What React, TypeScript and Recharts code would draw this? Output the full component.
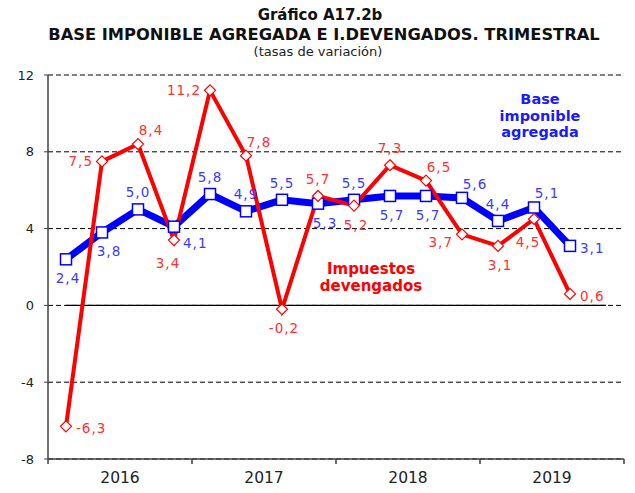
import React from 'react';
import { LineChart, Line, XAxis, YAxis, CartesianGrid, ReferenceLine, LabelList } from 'recharts';

const quarters = ['I-16', 'II-16', 'III-16', 'IV-16', 'I-17', 'II-17', 'III-17', 'IV-17', 'I-18', 'II-18', 'III-18', 'IV-18', 'I-19', 'II-19', 'III-19', 'IV-19'];
const years = ['2016', '2017', '2018', '2019'];
const baseImponible = [2.4, 3.8, 5.0, 4.1, 5.8, 4.9, 5.5, 5.3, 5.5, 5.7, 5.7, 5.6, 4.4, 5.1, 3.1, null];
const impuestos = [-6.3, 7.5, 8.4, 3.4, 11.2, 7.8, -0.2, 5.7, 5.2, 7.3, 6.5, 3.7, 3.1, 4.5, 0.6, null];
const yTicks = [-8, -4, 0, 4, 8, 12];
const xTicks = [-0.5, 1.5, 3.5, 5.5, 7.5, 9.5, 11.5, 13.5, 15.5];

// where each value label sits relative to its point
const baseLabelPos = ['b', 'br', 'a', 'rb', 'a', 'a', 'a', 'br', 'a', 'b', 'b', 'ar', 'a', 'ar', 'r'];
const impLabelPos = ['r', 'l', 'ar', 'bl', 'l', 'ar', 'b', 'a', 'b', 'a', 'ar', 'lb', 'b', 'bl', 'r'];

const data = quarters.map((q, i) => ({ idx: i, q, base: baseImponible[i], imp: impuestos[i] }));

const FONT = "'DejaVu Sans', Verdana, sans-serif";
const BLUE = '#0000ff';
const RED = '#ff0000';

const placements: Record<string, { dx: number; dy: number; anchor: 'start' | 'middle' | 'end' }> = {
  a: { dx: 0, dy: -17, anchor: 'middle' },
  b: { dx: 2, dy: 19, anchor: 'middle' },
  ar: { dx: 13, dy: -14, anchor: 'middle' },
  br: { dx: 7, dy: 19, anchor: 'middle' },
  bl: { dx: -6, dy: 23, anchor: 'middle' },
  r: { dx: 10, dy: 2, anchor: 'start' },
  rb: { dx: 9, dy: 16, anchor: 'start' },
  l: { dx: -9, dy: 0, anchor: 'end' },
  lb: { dx: -9, dy: 8, anchor: 'end' },
};

const makeLabel = (pos: string[], color: string) => (props: any) => {
  const { x, y, value, index } = props;
  if (value == null || x == null || y == null) return null;
  const p = placements[pos[index]] || placements.a;
  return (
    <text
      x={x + p.dx}
      y={y + p.dy}
      textAnchor={p.anchor}
      dominantBaseline="central"
      fill={color}
      fontSize={13.5}
      letterSpacing={1}
      fontFamily={FONT}
    >
      {String(value.toFixed(1)).replace('.', ',')}
    </text>
  );
};

const SquareDot = (props: any) => {
  const { cx, cy, index } = props;
  if (cx == null || cy == null || props.value == null) return <g key={`s${index}`} />;
  return <rect key={`s${index}`} x={cx - 5.5} y={cy - 5.5} width={11} height={11} fill="#fff" stroke={BLUE} strokeWidth={1.5} />;
};

const DiamondDot = (props: any) => {
  const { cx, cy, index } = props;
  if (cx == null || cy == null || props.value == null) return <g key={`d${index}`} />;
  const r = 5.5;
  return (
    <path
      key={`d${index}`}
      d={`M${cx},${cy - r}L${cx + r},${cy}L${cx},${cy + r}L${cx - r},${cy}Z`}
      fill="#fff"
      stroke={RED}
      strokeWidth={1.2}
    />
  );
};

const YearTick = (props: any) => {
  const { x, y, payload } = props;
  const v = payload.value;
  if ((v + 0.5) % 4 === 0) {
    return <line x1={x} x2={x} y1={y} y2={y + 5} stroke="#404040" strokeWidth={1.5} />;
  }
  return (
    <text x={x} y={y + 24} textAnchor="middle" fill="#222" fontSize={15.5} fontFamily={FONT}>
      {years[Math.floor(v / 4)]}
    </text>
  );
};

const center: React.CSSProperties = { position: 'absolute', textAlign: 'center', fontFamily: FONT, whiteSpace: 'nowrap' };

export default function App() {
  return (
    <div style={{ position: 'absolute', left: 0, top: 0, width: 635, height: 493, background: '#fff' }}>
      <LineChart width={635} height={493} data={data} margin={{ top: 75, right: 11, bottom: 0, left: 0 }}>
        <CartesianGrid vertical={false} stroke="#000" strokeDasharray="5 3" />
        <XAxis
          dataKey="idx"
          type="number"
          domain={[-0.5, 15.5]}
          ticks={xTicks}
          interval={0}
          height={34}
          tickSize={0}
          tickMargin={0}
          tick={<YearTick />}
          axisLine={{ stroke: '#404040', strokeWidth: 1.5 }}
        />
        <YAxis
          width={48}
          domain={[-8, 12]}
          ticks={yTicks}
          interval={0}
          tickSize={4}
          tickMargin={10}
          tick={{ fill: '#222', fontSize: 13, fontFamily: FONT }}
          axisLine={{ stroke: '#404040', strokeWidth: 1.5 }}
          tickLine={{ stroke: '#404040' }}
        />
        <ReferenceLine segment={[{ x: 0, y: 0 }, { x: 15, y: 0 }]} stroke="#000" strokeWidth={1.2} />
        <Line
          type="linear"
          dataKey="base"
          stroke={BLUE}
          strokeWidth={7}
          dot={SquareDot}
          activeDot={false}
          isAnimationActive={false}
        >
          <LabelList dataKey="base" content={makeLabel(baseLabelPos, '#3a3aff')} />
        </Line>
        <Line
          type="linear"
          dataKey="imp"
          stroke={RED}
          strokeWidth={4}
          dot={DiamondDot}
          activeDot={false}
          isAnimationActive={false}
        >
          <LabelList dataKey="imp" content={makeLabel(impLabelPos, '#ff3030')} />
        </Line>
      </LineChart>
      <div style={{ ...center, left: 0, width: 640, top: 6, fontSize: 15, fontWeight: 'bold', color: '#111', lineHeight: '18px' }}>
        Gráfico A17.2b
      </div>
      <div style={{ ...center, left: 0, width: 648, top: 26, fontSize: 16.3, fontWeight: 'bold', color: '#111', lineHeight: '18px' }}>
        BASE IMPONIBLE AGREGADA E I.DEVENGADOS. TRIMESTRAL
      </div>
      <div style={{ ...center, left: 0, width: 636, top: 44, fontSize: 13, color: '#222', lineHeight: '16px' }}>
        (tasas de variación)
      </div>
      <div style={{ ...center, left: 480, width: 120, top: 91, fontSize: 14.5, fontWeight: 'bold', color: '#1a1aff', lineHeight: '16.5px' }}>
        Base
        <br />
        imponible
        <br />
        agregada
      </div>
      <div style={{ ...center, left: 311, width: 120, top: 261, fontSize: 15, fontWeight: 'bold', color: RED, lineHeight: '17px' }}>
        Impuestos
        <br />
        devengados
      </div>
    </div>
  );
}
